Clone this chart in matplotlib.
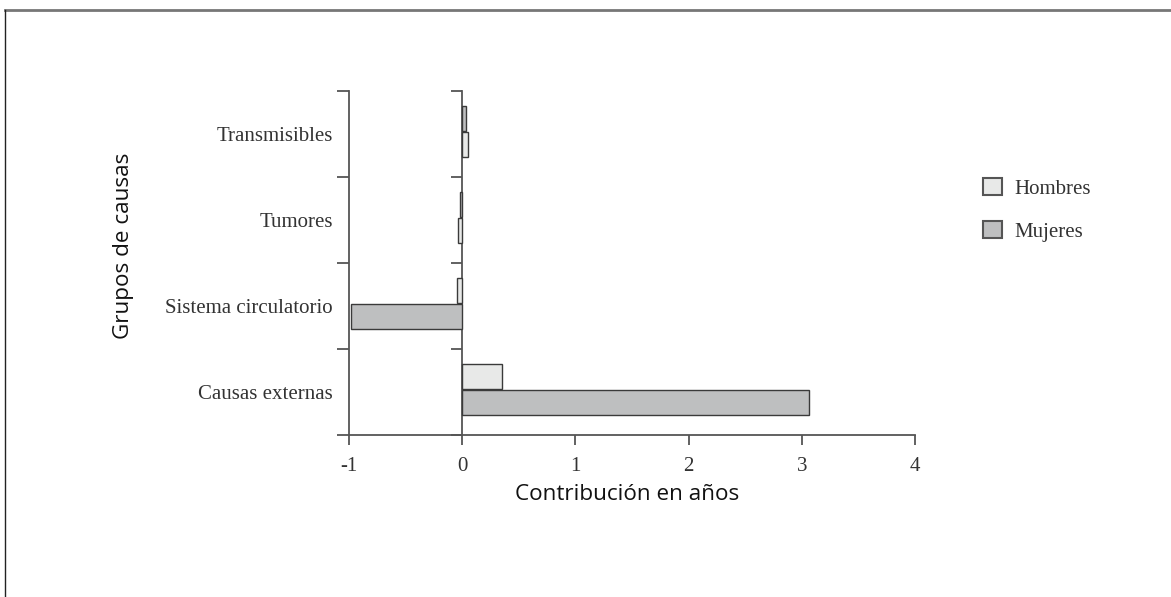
import matplotlib
matplotlib.use("Agg")
import matplotlib.pyplot as plt
from matplotlib.lines import Line2D
from matplotlib.patches import Patch

# datos (de arriba hacia abajo)
causas = ["Transmisibles", "Tumores", "Sistema circulatorio", "Causas externas"]
hombres = [0.053, -0.04, -0.05, 0.35]
mujeres = [0.03, -0.02, -0.98, 3.06]
x_ticks = [-1, 0, 1, 2, 3, 4]

# en que categorias va la barra de hombres arriba
hombres_arriba = [False, False, True, True]

COLOR_H = "#e8e9e8"
COLOR_M = "#bebfc0"
EDGE = "#3a3a3a"
AXIS = "#555555"
SERIF = ["Liberation Serif", "DejaVu Serif"]
SANS = ["Open Sans", "DejaVu Sans"]

fig = plt.figure(figsize=(11.71, 5.97), dpi=100)
ax = fig.add_axes([349 / 1171, 1 - 435 / 597, (915 - 349) / 1171, (435 - 91) / 597])

n = len(causas)
ypos = [n - 1 - i for i in range(n)]
h = 0.29
off = 0.148
shift = 0.03
for i, y in enumerate(ypos):
    s = 1 if hombres_arriba[i] else -1
    ax.barh(y + shift + s * off, hombres[i], height=h, color=COLOR_H,
            edgecolor=EDGE, linewidth=1.0, zorder=3)
    ax.barh(y + shift - s * off, mujeres[i], height=h, color=COLOR_M,
            edgecolor=EDGE, linewidth=1.0, zorder=3)

ax.set_xlim(-1, 4)
ax.set_ylim(-0.5, n - 0.5)

for side in ["top", "right"]:
    ax.spines[side].set_visible(False)
for side in ["left", "bottom"]:
    ax.spines[side].set_color(AXIS)
    ax.spines[side].set_linewidth(1.3)

ax.set_xticks(x_ticks)
ax.set_xticklabels([str(t) for t in x_ticks], fontfamily=SERIF, fontsize=15, color="#333333")
ax.tick_params(axis="x", direction="out", length=7, width=1.3, color=AXIS, pad=9)

ax.set_yticks(ypos)
ax.set_yticklabels(causas, fontfamily=SERIF, fontsize=15, color="#333333")
ax.tick_params(axis="y", which="major", length=0, pad=11.5)
bounds = [k - 0.5 for k in range(n + 1)]
ax.set_yticks(bounds, minor=True)
ax.tick_params(axis="y", which="minor", direction="out", length=9, width=1.3, color=AXIS)

# segundo eje vertical en x = 0
sec = ax.secondary_yaxis(0.2)
sec.spines["left"].set_color(AXIS)
sec.spines["left"].set_linewidth(1.3)
sec.set_yticks(bounds)
sec.set_yticklabels([])
sec.tick_params(axis="y", direction="out", length=8, width=1.3, color=AXIS)

fig.text(123 / 1171, 1 - 246 / 597, "Grupos de causas", rotation=90, ha="center",
         va="center", fontfamily=SANS, fontsize=16.2, color="#111111")
fig.text(627 / 1171, 1 - 495 / 597, "Contribución en años", ha="center",
         va="center", fontfamily=SANS, fontsize=16.2, color="#111111")

handles = [Patch(facecolor=COLOR_H, edgecolor="#555555", linewidth=1.5),
           Patch(facecolor=COLOR_M, edgecolor="#555555", linewidth=1.5)]
fig.legend(handles, ["Hombres", "Mujeres"], loc="center left",
           bbox_to_anchor=(973 / 1171, 1 - 210 / 597), frameon=False, borderpad=0,
           prop={"family": SERIF, "size": 15}, handlelength=0.87, handleheight=0.87,
           handletextpad=0.6, labelspacing=1.05, labelcolor="#333333")

# marco de la pagina
fig.add_artist(Line2D([5 / 1171, 1], [1 - 10 / 597, 1 - 10 / 597],
                      transform=fig.transFigure, color="#777777", linewidth=2))
fig.add_artist(Line2D([5 / 1171, 5 / 1171], [0, 1 - 10 / 597],
                      transform=fig.transFigure, color="#222222", linewidth=1))

fig.savefig("out.png", dpi=100)
